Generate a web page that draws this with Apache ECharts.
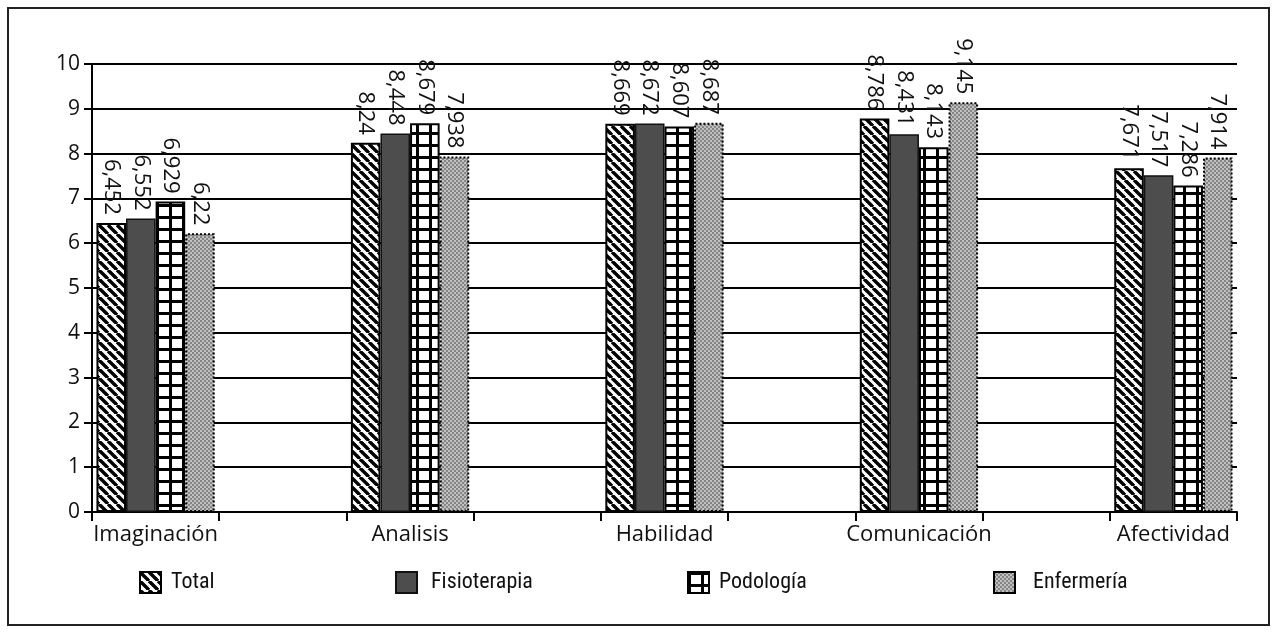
<!DOCTYPE html>
<html>
<head>
<meta charset="utf-8">
<script src="https://cdn.jsdelivr.net/npm/echarts@6/dist/echarts.min.js"></script>
<style>
html,body{margin:0;padding:0;background:#fff;}
#chart{width:1274px;height:633px;}
</style>
</head>
<body>
<div id="chart"></div>
<script>
const categories = ['Imaginación', 'Analisis', 'Habilidad', 'Comunicación', 'Afectividad'];
const seriesNames = ['Total', 'Fisioterapia', 'Podología', 'Enfermería'];
const totalValues = [6.452, 8.24, 8.669, 8.786, 7.671];
const fisioterapiaValues = [6.552, 8.448, 8.672, 8.431, 7.517];
const podologiaValues = [6.929, 8.679, 8.607, 8.143, 7.286];
const enfermeriaValues = [6.22, 7.938, 8.687, 9.145, 7.914];
const yTicks = [0, 1, 2, 3, 4, 5, 6, 7, 8, 9, 10];

// interleave empty slots between categories (the original leaves a gap slot between groups)
const axisData = [];
categories.forEach((c, i) => { axisData.push(c); if (i < categories.length - 1) axisData.push(''); });
function spread(vals) {
  const out = [];
  vals.forEach((v, i) => { out.push(v); if (i < vals.length - 1) out.push('-'); });
  return out;
}

function makeCanvas(w, h, draw) {
  const c = document.createElement('canvas');
  c.width = w; c.height = h;
  const ctx = c.getContext('2d');
  draw(ctx, w, h);
  return c;
}
const stripe = makeCanvas(9, 9, (ctx, w, h) => {
  ctx.fillStyle = '#fff'; ctx.fillRect(0, 0, w, h);
  ctx.strokeStyle = '#000'; ctx.lineWidth = 3.4;
  for (let k = -1; k <= 1; k++) {
    ctx.beginPath(); ctx.moveTo(k * w, 0); ctx.lineTo(k * w + w, h); ctx.stroke();
  }
});
const grid = makeCanvas(13, 12, (ctx, w, h) => {
  ctx.fillStyle = '#fff'; ctx.fillRect(0, 0, w, h);
  ctx.fillStyle = '#000';
  ctx.fillRect(0, 0, 3, h);
  ctx.fillRect(0, 0, w, 3);
});
const checker = makeCanvas(4, 4, (ctx, w, h) => {
  ctx.fillStyle = '#c0c0c0'; ctx.fillRect(0, 0, w, h);
  ctx.fillStyle = '#858585';
  ctx.fillRect(0, 0, 2, 2); ctx.fillRect(2, 2, 2, 2);
});

const styles = [
  { color: { image: stripe, repeat: 'repeat' }, borderColor: '#000', borderWidth: 2 },
  { color: '#4d4d4d', borderColor: '#111', borderWidth: 1.5 },
  { color: { image: grid, repeat: 'repeat' }, borderColor: '#000', borderWidth: 2 },
  { color: { image: checker, repeat: 'repeat' }, borderColor: '#000', borderWidth: 2, borderType: 'dotted' }
];
const valueSets = [totalValues, fisioterapiaValues, podologiaValues, enfermeriaValues];

const FONT = '"Open Sans", "Noto Sans", sans-serif';

const series = seriesNames.map((name, i) => ({
  name: name,
  type: 'bar',
  data: spread(valueSets[i]),
  barGap: '0%',
  barCategoryGap: '7%',
  itemStyle: styles[i],
  label: {
    show: true,
    position: 'top',
    rotate: -90,
    align: 'right',
    verticalAlign: 'middle',
    distance: 8,
    color: '#111',
    fontSize: 22,
    fontFamily: FONT,
    formatter: p => String(p.value).replace('.', ',')
  }
}));

const legendLefts = [134, 390, 682, 988];
const legendGaps = [10, 14, 10, 18];
const legends = seriesNames.map((name, i) => ({
  data: [name],
  left: legendLefts[i],
  top: 566,
  orient: 'horizontal',
  icon: 'rect',
  itemWidth: 21,
  itemHeight: 21,
  selectedMode: false,
  textStyle: { fontSize: 22, color: '#111', fontFamily: '"Liberation Sans Narrow", "Roboto Condensed", Roboto, sans-serif', padding: [0, 0, 0, legendGaps[i] - 5] }
}));

const chart = echarts.init(document.getElementById('chart'), null, { renderer: 'canvas' });
chart.setOption({
  animation: false,
  backgroundColor: '#fff',
  graphic: [{
    type: 'rect',
    shape: { x: 8, y: 8, width: 1261, height: 617 },
    style: { fill: 'none', stroke: '#222', lineWidth: 2 },
    silent: true,
    z: -1
  }],
  legend: legends,
  grid: { left: 92, right: 37, top: 64, bottom: 121, containLabel: false },
  xAxis: {
    type: 'category',
    data: axisData,
    axisLine: { lineStyle: { color: '#000', width: 2 } },
    axisTick: { show: true, interval: 0, length: 9, lineStyle: { color: '#000', width: 2 } },
    axisLabel: { interval: 0, margin: 12, color: '#111', fontSize: 22, fontFamily: FONT },
    splitLine: { show: false }
  },
  yAxis: {
    type: 'value',
    min: yTicks[0],
    max: yTicks[yTicks.length - 1],
    interval: 1,
    axisLine: { show: true, lineStyle: { color: '#000', width: 2 } },
    axisTick: { show: true, length: 8, lineStyle: { color: '#000', width: 2 } },
    axisLabel: { margin: 12, color: '#111', fontSize: 21, fontFamily: FONT },
    splitLine: { show: true, lineStyle: { color: '#000', width: 2 } }
  },
  series: series
});
</script>
</body>
</html>
